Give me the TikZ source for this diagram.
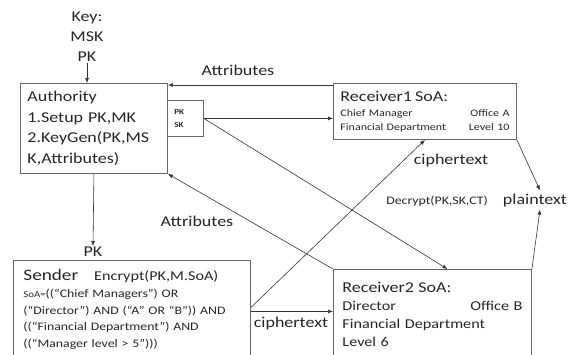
\documentclass[tikz,border=0pt]{standalone}
\usepackage{fontspec}
\setmainfont{Carlito}[FakeStretch=1.2]
\usepackage{tikz}
\usetikzlibrary{positioning,arrows.meta}
\newcommand\fsize[2]{\fontsize{#1}{#2}\selectfont}

\begin{document}
\begin{tikzpicture}[
  x=1pt, y=-1pt, >={Latex[length=5pt,width=4pt]},
  every node/.style={text=black!85},
  box/.style={draw=black!60, line width=0.9pt, align=left, inner ysep=0pt},
  lbl/.style={font=\fsize{15}{20}, inner sep=1pt},
  fl/.style={->, line width=0.6pt, draw=black!80},
]
\useasboundingbox (0,0) rectangle (578,354);
\clip (0,0) rectangle (578,354);

% authority side
\node[lbl, align=center] (key) at (87,37) {Key:\\MSK\\PK};
\node[box, anchor=north west, text width=133pt, inner xsep=7pt, minimum height=90pt,
      font=\fsize{15}{20.5}] (auth) at (20,83)
     {Authority\\1.Setup PK,MK\\2.KeyGen(PK,MS\\K,Attributes)};
\node[box, anchor=north west, text width=22pt, inner xsep=7pt, minimum height=36pt,
      font=\fsize{7.5}{13}\bfseries] (pksk) at (167,100) {PK\\SK};

% receivers
\node[box, anchor=north west, text width=169pt, inner xsep=7pt, minimum height=56pt,
      font=\fsize{10}{14}] (rec1) at (333,83)
     {{\fsize{15}{18}Receiver1 SoA:}\\[1pt]
      Chief Manager\hfill Office A\\
      Financial Department\hfill Level 10};
\node[box, anchor=north west, text width=180pt, inner xsep=9pt, minimum height=90pt,
      font=\fsize{13.5}{18}] (rec2) at (333,269)
     {{\fsize{15}{18}Receiver2 SoA:}\\
      Director\hfill Office B\\
      Financial Department\\
      Level 6};

% sender
\node[box, anchor=north west, text width=217pt, inner xsep=10pt, minimum height=98pt,
      font=\fsize{11.5}{16.7}] (send) at (13,260)
     {{\fsize{16}{18}Sender}\hspace{16pt}{\fsize{13.5}{18}Encrypt(PK,M.SoA)}\\
      {\fsize{9}{16}SoA=}((“Chief Managers”) OR\\
      (“Director”) AND (“A” OR “B”)) AND\\
      ((“Financial Department”) AND\\
      ((“Manager level > 5”)))};

% labels
\node[lbl] (attr1) at (238,70) {Attributes};
\node[lbl] (attr2) at (197,221) {Attributes};
\node[lbl] (pk) at (93,252) {PK};
\node[lbl] (ct1) at (451,160) {ciphertext};
\node[lbl] (ct2) at (291,323) {ciphertext};
\node[font=\fsize{11.5}{14}] (dec) at (437,201) {Decrypt(PK,SK,CT)};
\node[lbl, inner sep=3pt] (plain) at (535,200) {plaintext};

\draw[fl] (key.south) -- (key.south |- auth.north);
\draw[fl] ([yshift=-2pt]rec1.north west) -- ([yshift=-2pt]auth.north east);
\draw[fl] (pksk.east) -- (pksk.east -| rec1.west);
\draw[fl] (pksk.east) -- ([xshift=15pt]rec2.north);
\draw[fl] (rec2.north west) -- (auth.south east);
\draw[fl] (auth.south) -- (pk.north);
\draw[fl] ([yshift=2pt]send.east) -- (rec1.south);
\draw[fl] ([yshift=-2pt]send.east) -- ([yshift=-2pt]send.east -| rec2.west);
\draw[fl] (rec1.south east) -- ([xshift=5pt]plain.north);
\draw[fl] (rec2.north east) -- ([xshift=5pt]plain.south);
\end{tikzpicture}
\end{document}
